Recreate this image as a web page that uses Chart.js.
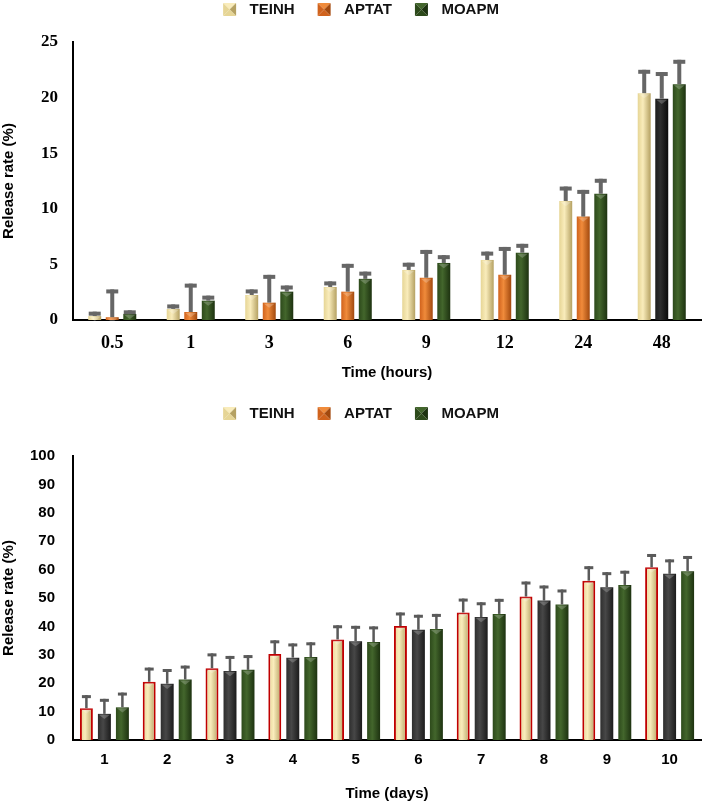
<!DOCTYPE html>
<html>
<head>
<meta charset="utf-8">
<script src="https://cdn.jsdelivr.net/npm/chart.js@4.4.1/dist/chart.umd.min.js"></script>
<style>
  html, body { margin: 0; padding: 0; background: #fff; }
  body { width: 703px; height: 803px; position: relative; overflow: hidden; }
  canvas { position: absolute; left: 0; }
  #hoursChart { top: 0; }
  #daysChart { top: 404px; }
</style>
</head>
<body>
<canvas id="hoursChart" width="703" height="386"></canvas>
<canvas id="daysChart" width="703" height="399"></canvas>
<script>
const seriesNames = ['TEINH', 'APTAT', 'MOAPM'];

// release over the first 48 hours
const hourLabels = ['0.5', '1', '3', '6', '9', '12', '24', '48'];
const hourTEINH = [0.35, 1.0, 2.25, 2.97, 4.5, 5.4, 10.7, 20.4];
const hourTEINHErr = [0.4, 0.4, 0.5, 0.5, 0.65, 0.75, 1.3, 2.1];
const hourAPTAT = [0.25, 0.72, 1.56, 2.55, 3.8, 4.07, 9.3, 19.9];
const hourAPTATErr = [2.5, 2.55, 2.5, 2.5, 2.5, 2.5, 2.4, 2.4];
const hourMOAPM = [0.55, 1.74, 2.55, 3.7, 5.13, 6.05, 11.35, 21.2];
const hourMOAPMErr = [0.32, 0.45, 0.55, 0.65, 0.7, 0.8, 1.35, 2.2];

// release over 10 days
const dayLabels = ['1', '2', '3', '4', '5', '6', '7', '8', '9', '10'];
const dayTEINH = [11.2, 20.5, 25.3, 30.3, 35.4, 40.1, 44.9, 50.5, 56.1, 60.8];
const dayTEINHErr = [4.6, 5.0, 5.2, 4.8, 5.0, 4.8, 4.9, 5.3, 5.1, 4.7];
const dayAPTAT = [9.2, 19.8, 24.3, 29.0, 34.8, 38.8, 43.3, 49.1, 53.8, 58.5];
const dayAPTATErr = [5.3, 5.2, 5.3, 5.0, 5.4, 5.3, 5.2, 5.3, 5.3, 5.1];
const dayMOAPM = [11.5, 21.3, 24.7, 29.2, 34.5, 39.1, 44.4, 47.7, 54.6, 59.4];
const dayMOAPMErr = [5.2, 4.9, 5.2, 5.2, 5.5, 5.3, 5.3, 5.3, 5.0, 5.4];

const hourTicks = { min: 0, max: 25, step: 5 };
const dayTicks = { min: 0, max: 100, step: 10 };

// left / highlight / right of each bar
const shades = {
    cream: ['#e6d595', '#f9ecbb', '#b5a162'],
    orange: ['#d0621c', '#f08b3b', '#a2490e'],
    black: ['#1c1c1c', '#2e2e2e', '#0b0b0b'],
    charcoal: ['#2e2e2e', '#474747', '#1b1b1b'],
    green: ['#2d4a1b', '#43662c', '#1d3210']
};

const sans = "'Liberation Sans', Arial, sans-serif";
const serif = "'Liberation Serif', 'Times New Roman', serif";
Chart.defaults.font.family = sans;
Chart.defaults.color = '#000';

// little pyramid squares for the legend
function makeIcon(s) {
    const c = document.createElement('canvas');
    c.width = 40;
    c.height = 13;
    const g = c.getContext('2d');
    const x0 = 21, y0 = 0, w = 13, cx = x0 + w / 2, cy = y0 + w / 2;
    const faces = [
        [[x0, y0], [x0 + w, y0], s[1]],
        [[x0 + w, y0], [x0 + w, y0 + w], s[2]],
        [[x0 + w, y0 + w], [x0, y0 + w], s[0]],
        [[x0, y0 + w], [x0, y0], s[0]]
    ];
    faces.forEach(f => {
        g.fillStyle = f[2];
        g.beginPath();
        g.moveTo(f[0][0], f[0][1]);
        g.lineTo(f[1][0], f[1][1]);
        g.lineTo(cx, cy);
        g.closePath();
        g.fill();
    });
    return c;
}
const legendIcons = [makeIcon(shades.cream), makeIcon(shades.orange), makeIcon(shades.green)];

const barLook = {
    id: 'barLook',
    beforeDatasetsDraw(chart) {
        const ctx = chart.ctx;
        chart.data.datasets.forEach((ds, di) => {
            chart.getDatasetMeta(di).data.forEach((bar, i) => {
                const s = shades[ds.shade[i]];
                const { x, width } = bar.getProps(['x', 'width'], true);
                const g = ctx.createLinearGradient(x - width / 2, 0, x + width / 2, 0);
                g.addColorStop(0, s[0]);
                g.addColorStop(0.4, s[1]);
                g.addColorStop(1, s[2]);
                bar.options.backgroundColor = g;
            });
        });
    },
    afterDatasetsDraw(chart, args, opts) {
        const ctx = chart.ctx;
        const yScale = chart.scales.y;
        chart.data.datasets.forEach((ds, di) => {
            chart.getDatasetMeta(di).data.forEach((bar, i) => {
                const { x, y, width } = bar.getProps(['x', 'y', 'width'], true);
                ctx.save();
                // bevel on top of the bar
                ctx.fillStyle = 'rgba(255,255,255,0.22)';
                ctx.beginPath();
                ctx.moveTo(x - width / 2 + 1, y + 1);
                ctx.lineTo(x + width / 2 - 1, y + 1);
                ctx.lineTo(x, y + width * 0.4);
                ctx.closePath();
                ctx.fill();
                // one-sided error bar
                const yErr = yScale.getPixelForValue(ds.data[i] + ds.err[i]);
                ctx.fillStyle = opts.color;
                ctx.fillRect(x - opts.line / 2, yErr, opts.line, y - yErr);
                ctx.fillRect(x - opts.cap / 2, yErr, opts.cap, opts.capH);
                ctx.restore();
            });
        });
    }
};

function legendOptions() {
    return {
        position: 'top',
        labels: {
            usePointStyle: true,
            pointStyleWidth: 40,
            boxHeight: 13,
            padding: 2,
            color: '#111',
            font: { size: 15, weight: 'bold' },
            generateLabels: () => seriesNames.map((name, i) => ({
                text: name,
                pointStyle: legendIcons[i],
                fillStyle: 'transparent',
                strokeStyle: 'transparent',
                lineWidth: 0,
                hidden: false,
                datasetIndex: i,
                fontColor: '#111'
            }))
        }
    };
}

function makeChart(canvas, cfg) {
    return new Chart(canvas, {
        type: 'bar',
        data: {
            labels: cfg.labels,
            datasets: cfg.series.map((s, i) => ({
                label: seriesNames[i],
                data: s.data,
                err: s.err,
                shade: s.shade,
                backgroundColor: () => shades[s.shade[0]][1],
                borderColor: s.border || 'transparent',
                borderWidth: s.border ? 2 : 0,
                categoryPercentage: cfg.catPct,
                barPercentage: cfg.barPct
            }))
        },
        options: {
            responsive: false,
            animation: false,
            events: [],
            devicePixelRatio: 1,
            layout: { padding: { left: 0, right: 2, top: 0, bottom: 0 } },
            plugins: {
                legend: legendOptions(),
                // empty box that keeps a gap between the legend and the plot
                title: {
                    display: true,
                    text: '',
                    weight: 500,
                    padding: 0,
                    font: { size: 10, lineHeight: cfg.gap + 'px' }
                },
                tooltip: { enabled: false },
                barLook: cfg.err
            },
            scales: {
                x: {
                    z: 1,
                    grid: { display: false, drawTicks: false },
                    border: { display: true, color: '#000', width: 2 },
                    ticks: { font: cfg.xFont, color: '#000', padding: cfg.xPad, maxRotation: 0 },
                    title: {
                        display: true,
                        text: cfg.xTitle,
                        color: '#000',
                        font: { size: 15, weight: 'bold' },
                        padding: { top: 4, bottom: cfg.titleBottom }
                    },
                    afterFit(s) { s.height = cfg.xHeight; }
                },
                y: {
                    min: cfg.ticks.min,
                    max: cfg.ticks.max,
                    grid: { display: false, drawTicks: false },
                    border: { display: true, color: '#000', width: 2 },
                    ticks: { stepSize: cfg.ticks.step, font: cfg.yFont, color: '#000', padding: cfg.yPad },
                    title: {
                        display: true,
                        text: 'Release rate (%)',
                        color: '#000',
                        font: { size: 15, weight: 'bold' },
                        padding: { top: 0, bottom: 0 }
                    },
                    afterFit(s) { s.width = 73; }
                }
            }
        },
        plugins: [barLook]
    });
}

makeChart(document.getElementById('hoursChart'), {
    labels: hourLabels,
    series: [
        { data: hourTEINH, err: hourTEINHErr, shade: hourLabels.map(() => 'cream') },
        { data: hourAPTAT, err: hourAPTATErr, shade: hourLabels.map(l => l === '48' ? 'black' : 'orange') },
        { data: hourMOAPM, err: hourMOAPMErr, shade: hourLabels.map(() => 'green') }
    ],
    catPct: 0.67,
    barPct: 0.74,
    ticks: hourTicks,
    xTitle: 'Time (hours)',
    xFont: { family: serif, size: 18, weight: 'bold' },
    yFont: { family: serif, size: 17, weight: 'bold' },
    xPad: 13,
    yPad: 15,
    xHeight: 66,
    gap: 15,
    titleBottom: 4,
    err: { color: '#666666', line: 4, cap: 12, capH: 4 }
});

makeChart(document.getElementById('daysChart'), {
    labels: dayLabels,
    series: [
        { data: dayTEINH, err: dayTEINHErr, shade: dayLabels.map(() => 'cream'), border: '#c00000' },
        { data: dayAPTAT, err: dayAPTATErr, shade: dayLabels.map(() => 'charcoal') },
        { data: dayMOAPM, err: dayMOAPMErr, shade: dayLabels.map(() => 'green') }
    ],
    catPct: 0.86,
    barPct: 0.72,
    ticks: dayTicks,
    xTitle: 'Time (days)',
    xFont: { family: sans, size: 15, weight: 'bold' },
    yFont: { family: sans, size: 15, weight: 'bold' },
    xPad: 11,
    yPad: 18,
    xHeight: 63,
    gap: 25,
    titleBottom: 0,
    err: { color: '#5a5a5a', line: 2.5, cap: 9, capH: 3 }
});
</script>
</body>
</html>
